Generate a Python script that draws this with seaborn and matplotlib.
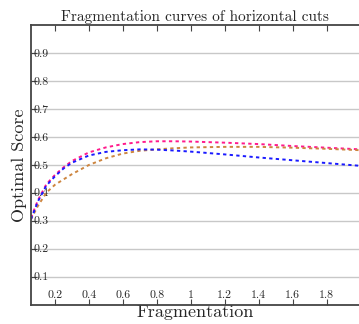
import numpy as np
import pandas as pd
import matplotlib
matplotlib.use("Agg")
import matplotlib.pyplot as plt
import seaborn as sns

# values
frag = [0.06, 0.1, 0.15, 0.2, 0.25, 0.3, 0.4, 0.5, 0.6, 0.7, 0.8, 0.9, 1.0,
        1.2, 1.4, 1.6, 1.8, 2.0]
score_pink = [0.31, 0.372, 0.43, 0.463, 0.49, 0.513, 0.544, 0.562, 0.574, 0.581,
              0.584, 0.584, 0.583, 0.579, 0.574, 0.567, 0.561, 0.555]
score_orange = [0.305, 0.352, 0.40, 0.428, 0.447, 0.466, 0.499, 0.523, 0.540, 0.550,
                0.555, 0.559, 0.562, 0.564, 0.564, 0.561, 0.557, 0.552]
score_blue = [0.305, 0.368, 0.425, 0.458, 0.486, 0.507, 0.533, 0.546, 0.552, 0.555,
              0.554, 0.551, 0.547, 0.537, 0.526, 0.516, 0.506, 0.496]

xticks = [0.2, 0.4, 0.6, 0.8, 1.0, 1.2, 1.4, 1.6, 1.8]
xtick_labels = ["0.2", "0.4", "0.6", "0.8", "1", "1.2", "1.4", "1.6", "1.8"]
yticks = [0.1, 0.2, 0.3, 0.4, 0.5, 0.6, 0.7, 0.8, 0.9]
ytick_labels = ["0.1", "0.2", "0.3", "0.4", "0.5", "0.6", "0.7", "0.8", "0.9"]

df = pd.DataFrame({
    "Fragmentation": frag * 3,
    "Score": score_pink + score_orange + score_blue,
    "curve": ["a"] * len(frag) + ["b"] * len(frag) + ["c"] * len(frag),
})

sns.set_style("white")
plt.rcParams["font.family"] = "cmr10"
plt.rcParams["mathtext.fontset"] = "cm"
plt.rcParams["axes.formatter.use_mathtext"] = True

fig = plt.figure(figsize=(3.59, 3.24), dpi=100)
ax = fig.add_axes([31 / 359, 19.5 / 324, 1 - 31 / 359, (304.5 - 25) / 324])

ax.grid(axis="y", color="#c8c8c8", linewidth=1.0)
ax.set_axisbelow(True)

palette = {"a": "#ff1a8c", "b": "#cd853f", "c": "#1a1aff"}
sns.lineplot(data=df, x="Fragmentation", y="Score", hue="curve", palette=palette,
             linewidth=1.4, legend=False, ax=ax)
for line in ax.get_lines():
    line.set_linestyle((0, (1.7, 1.7)))

ax.set_xlim(0.06, 1.99)
ax.set_ylim(0, 1)
ax.set_xticks(xticks)
ax.set_xticklabels(xtick_labels)
ax.set_yticks(yticks)
ax.set_yticklabels(ytick_labels)

ax.tick_params(axis="x", direction="in", top=True, bottom=True, length=4,
               pad=-3, labelsize=8.5, color="#444444", width=0.8)
ax.tick_params(axis="y", direction="in", left=True, length=4, pad=-2,
               labelsize=8.5, color="#444444", width=0.8)
for lab in ax.get_xticklabels():
    lab.set_verticalalignment("bottom")
for lab in ax.get_yticklabels():
    lab.set_horizontalalignment("left")

for side in ["left", "top", "bottom"]:
    ax.spines[side].set_color("#444444")
    ax.spines[side].set_linewidth(1.3)
ax.spines["right"].set_visible(False)

ax.set_title("Fragmentation curves of horizontal cuts", fontsize=11, pad=3)
ax.set_xlabel("Fragmentation", fontsize=13, labelpad=0)
ax.set_ylabel("Optimal Score", fontsize=13, labelpad=3)

fig.savefig("out.png", dpi=100)
